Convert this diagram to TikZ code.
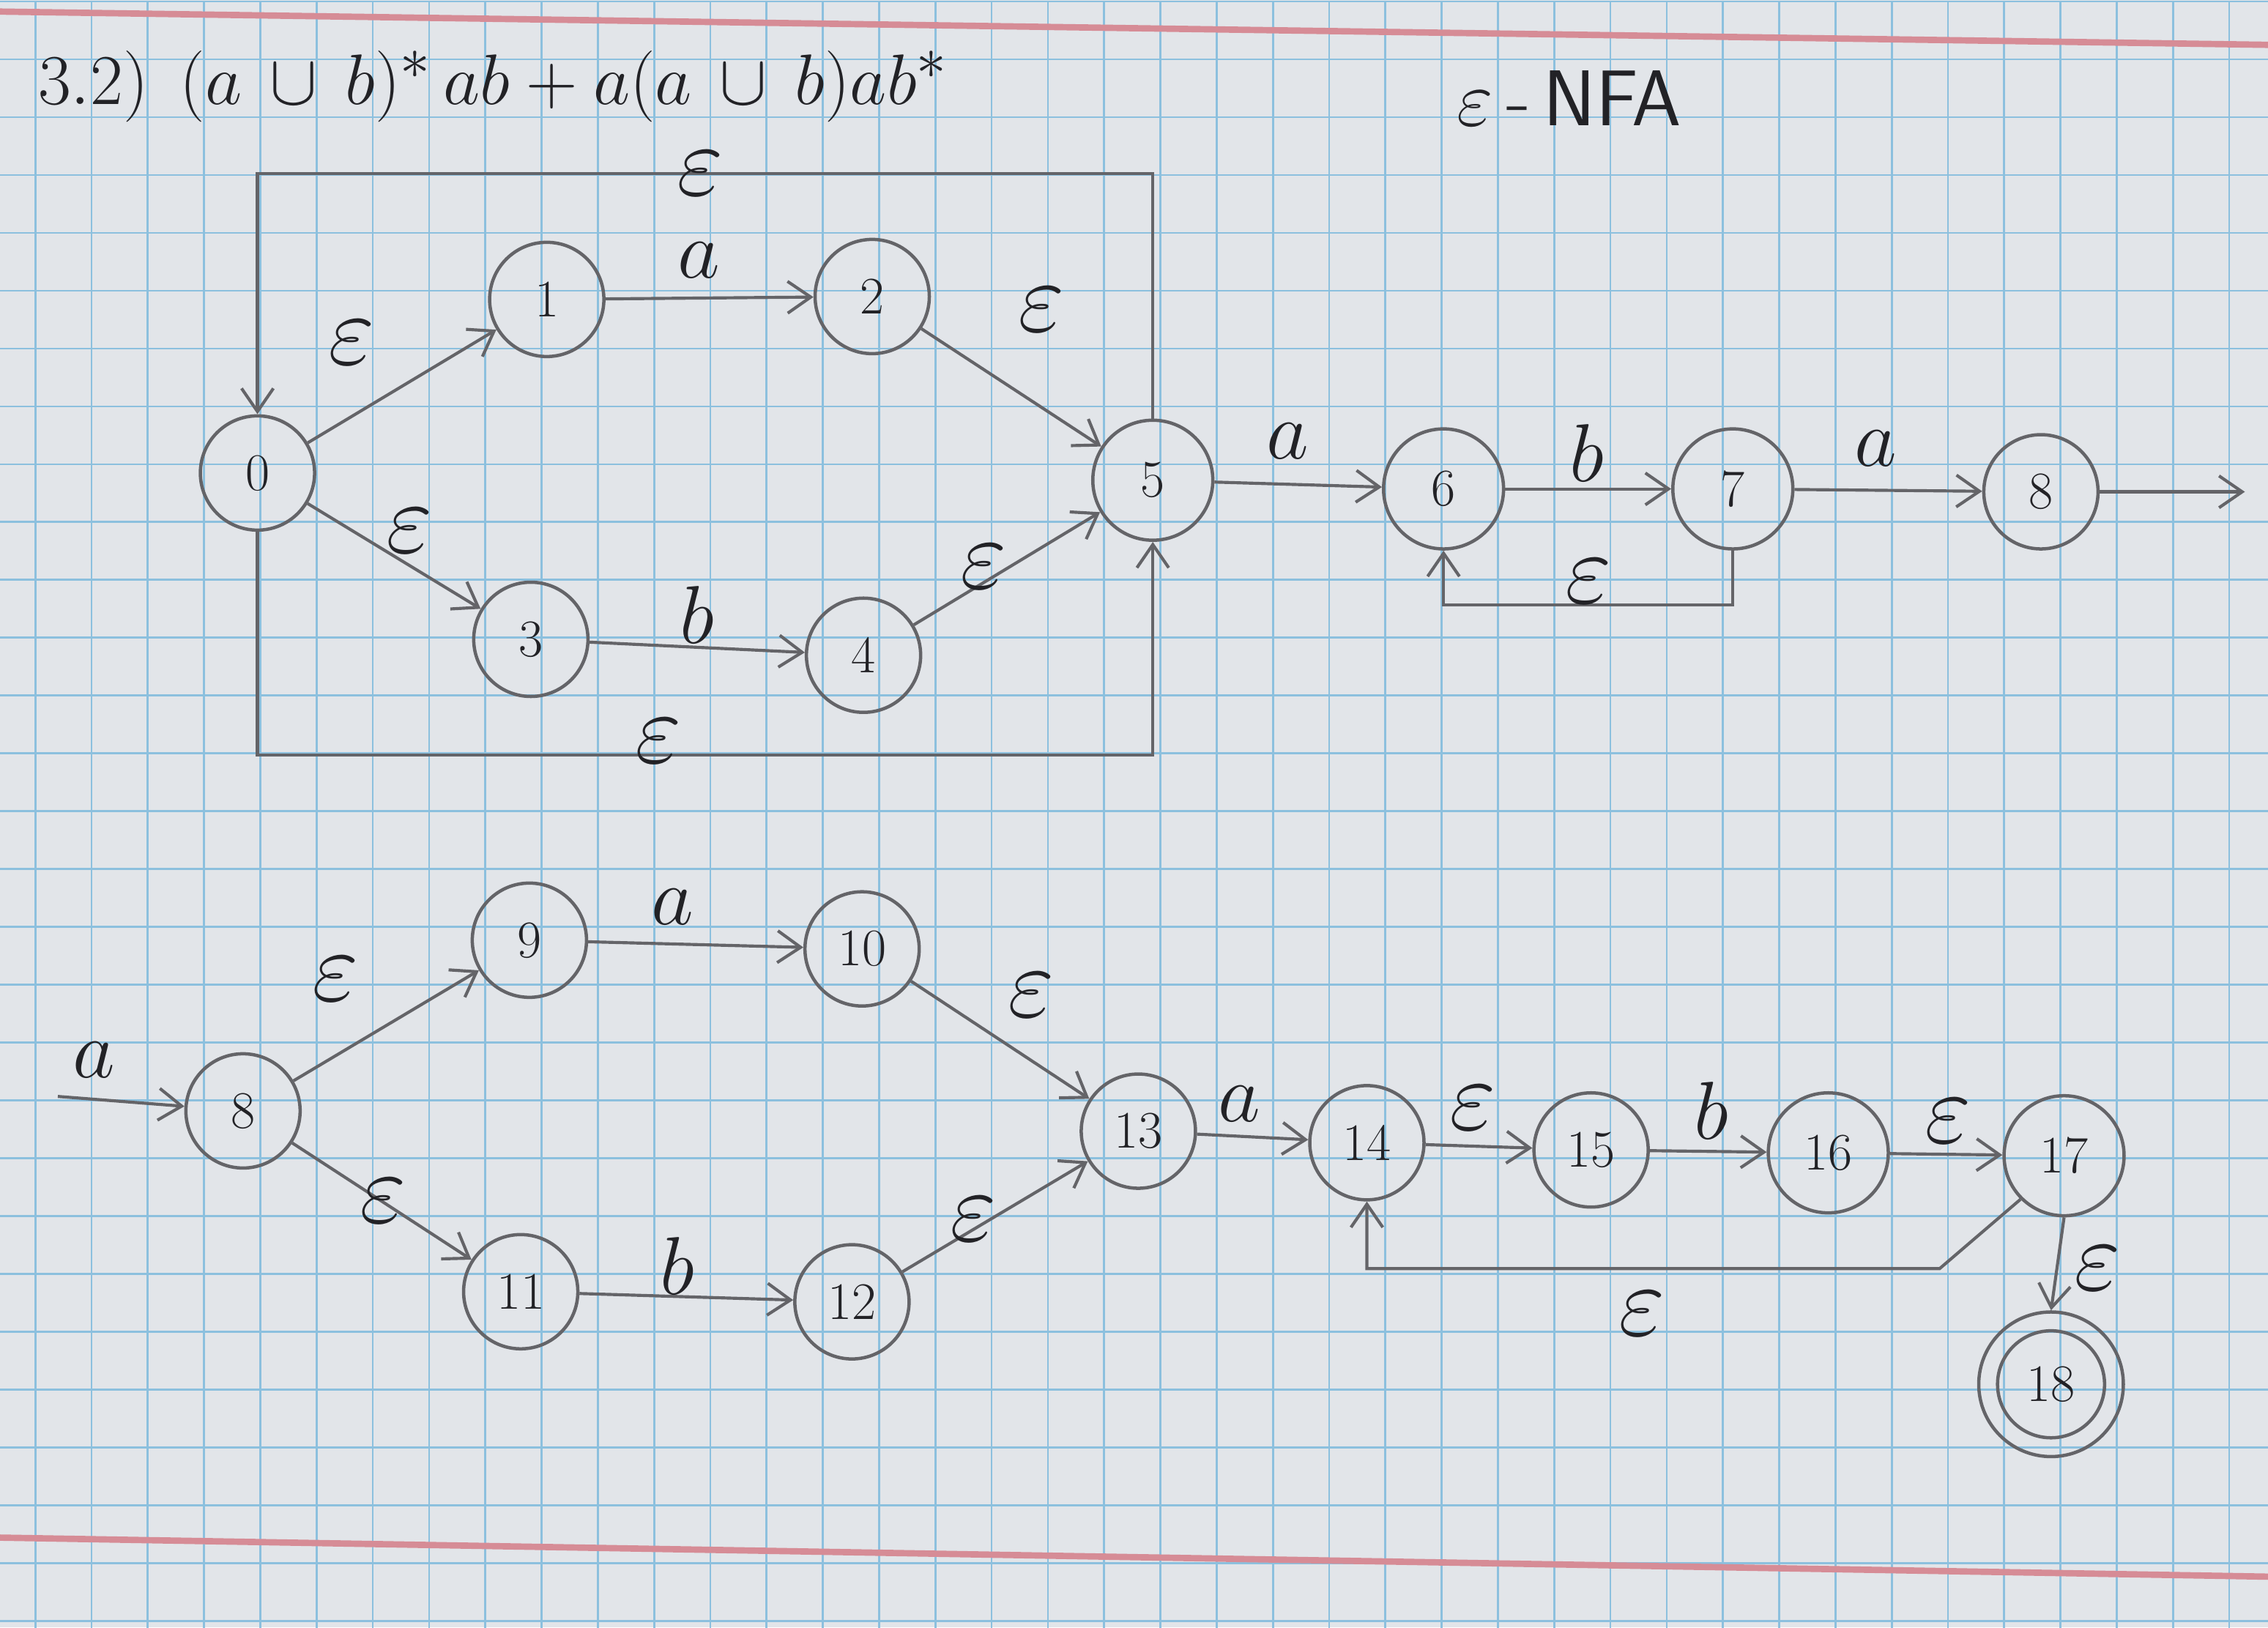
\documentclass[tikz,border=0pt]{standalone}
\usetikzlibrary{arrows.meta}
\definecolor{paper}{RGB}{226,229,233}
\definecolor{gridblue}{RGB}{140,192,222}
\definecolor{pencil}{RGB}{100,100,104}
\definecolor{ink}{RGB}{34,34,38}
\definecolor{redline}{RGB}{214,140,150}
\newcommand{\labA}[1]{\scalebox{1.3}{$#1$}}
\newcommand{\labE}{\scalebox{1.6}{$\varepsilon$}}
\begin{document}
\begin{tikzpicture}[x=0.02cm,y=-0.02cm,
  state/.style={circle,draw=pencil,line width=1.3pt,minimum size=1.58cm,inner sep=0pt,text=ink,font=\huge},
  bigstate/.style={state,minimum size=1.66cm},
  edge/.style={draw=pencil,line width=1.2pt,->},
  lab/.style={text=ink,font=\Huge,inner sep=0pt},
  gridline/.style={gridblue,line width=0.8pt},
  >={Straight Barb[length=3.2mm,width=4.4mm]}]
% paper
\fill[paper] (0,0) rectangle (1568,1125);
\useasboundingbox (0,0) rectangle (1568,1125);
\begin{scope}
\clip (0,0) rectangle (1568,1125);
\begin{scope}[shift={(-14.5,1)}]
\draw[gridline,xstep=0.778cm,ystep=0.8cm] (0,0) grid (1600,1140);
\end{scope}
\draw[redline,line width=2.5pt] (0,8) -- (1568,31);
\draw[redline,line width=2.5pt] (0,1063) -- (1568,1090);
\end{scope}

% headings
\node[lab,anchor=west] (title) at (26,60) {\scalebox{1.13}{$3.2)\;\,(a\,\cup\, b)^{*}\,ab+a(a\,\cup\, b)ab^{*}$}};
\node[lab] (nfa) at (1085,68) {\scalebox{1.25}{$\varepsilon$\,-\,\textsf{NFA}}};

% top automaton
\node[state] (n0) at (178,327) {0};
\node[state] (n1) at (378,207) {1};
\node[state] (n2) at (603,205) {2};
\node[state] (n3) at (367,442) {3};
\node[state] (n4) at (597,453) {4};
\node[bigstate] (n5) at (797,332) {5};
\node[bigstate] (n6) at (998,338) {6};
\node[bigstate] (n7) at (1198,338) {7};
\node[state] (n8a) at (1411,340) {8};
\coordinate (out8) at (1552,340);
\coordinate (top) at (0,120);
\coordinate (bot) at (0,522);
\coordinate (lp67) at (0,418);

\draw[edge] (n0) -- (n1);
\draw[edge] (n1) -- (n2);
\draw[edge] (n2) -- (n5);
\draw[edge] (n0) -- (n3);
\draw[edge] (n3) -- (n4);
\draw[edge] (n4) -- (n5);
\draw[edge] (n5) -- (n6);
\draw[edge] (n6) -- (n7);
\draw[edge] (n7) -- (n8a);
\draw[edge] (n8a) -- (out8);
\draw[edge] (n5.north) -- (n5.north |- top) -- (n0.north |- top) -- (n0.north);
\draw[edge] (n0.south) -- (n0.south |- bot) -- (n5.south |- bot) -- (n5.south);
\draw[edge] (n7.south) -- (n7.south |- lp67) -- (n6.south |- lp67) -- (n6.south);

\node[lab] (l01) at (243,237) {\labE};
\node[lab] (l12) at (483,180) {\labA{a}};
\node[lab] (l25) at (720,214) {\labE};
\node[lab] (l03) at (283,367) {\labE};
\node[lab] (l34) at (482,425) {\labA{b}};
\node[lab] (l45) at (680,392) {\labE};
\node[lab] (l50) at (484,120) {\labE};
\node[lab] (l05) at (455,512) {\labE};
\node[lab] (l56) at (890,305) {\labA{a}};
\node[lab] (l67) at (1097,313) {\labA{b}};
\node[lab] (l78) at (1297,310) {\labA{a}};
\node[lab] (l76) at (1098,402) {\labE};

% bottom automaton
\node[state] (n8b) at (168,768) {8};
\node[state] (n9) at (366,650) {9};
\node[state] (n10) at (596,656) {10};
\node[state] (n11) at (360,893) {11};
\node[state] (n12) at (589,900) {12};
\node[state] (n13) at (787,782) {13};
\node[state] (n14) at (945,790) {14};
\node[state] (n15) at (1100,795) {15};
\node[bigstate] (n16) at (1264,797) {16};
\node[bigstate] (n17) at (1427,799) {17};
\node[state,minimum size=1.48cm] (n18) at (1418,957) {18};
\node[circle,draw=pencil,line width=1.3pt,minimum size=2.0cm] (n18o) at (n18) {};
\coordinate (in8) at (40,758);
\coordinate (k1) at (1341,877);

\draw[edge] (in8) -- (n8b);
\draw[edge] (n8b) -- (n9);
\draw[edge] (n9) -- (n10);
\draw[edge] (n10) -- (n13);
\draw[edge] (n8b) -- (n11);
\draw[edge] (n11) -- (n12);
\draw[edge] (n12) -- (n13);
\draw[edge] (n13) -- (n14);
\draw[edge] (n14) -- (n15);
\draw[edge] (n15) -- (n16);
\draw[edge] (n16) -- (n17);
\draw[edge] (n17.south west) -- (k1) -- (n14.south |- k1) -- (n14.south);
\draw[edge] (n17.south) -- (n18o.north);

\node[lab] (lin) at (65,733) {\labA{a}};
\node[lab] (l89) at (232,677) {\labE};
\node[lab] (l910) at (465,627) {\labA{a}};
\node[lab] (l1013) at (713,688) {\labE};
\node[lab] (l811) at (265,830) {\labE};
\node[lab] (l1112) at (468,875) {\labA{b}};
\node[lab] (l1213) at (673,843) {\labE};
\node[lab] (l1314) at (857,763) {\labA{a}};
\node[lab] (l1415) at (1018,766) {\labE};
\node[lab] (l1516) at (1183,768) {\labA{b}};
\node[lab] (l1617) at (1347,775) {\labE};
\node[lab] (l1714) at (1135,908) {\labE};
\node[lab] (l1718) at (1450,877) {\labE};
\end{tikzpicture}
\end{document}
